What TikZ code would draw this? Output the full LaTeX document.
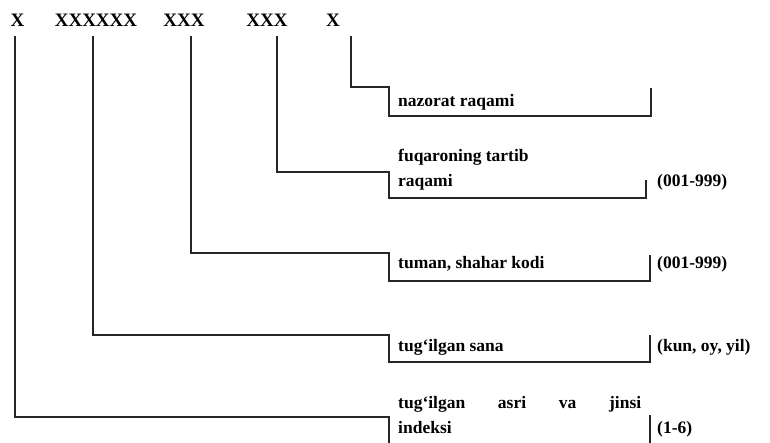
\documentclass[tikz,border=0pt]{standalone}
\usepackage{fontspec}
\setmainfont{Liberation Serif}
\begin{document}
\begin{tikzpicture}
		[x=1pt,y=-1pt,
		digit/.style={font=\fontsize{19}{22}\selectfont\bfseries,inner sep=0pt,anchor=base},
		boxtext/.style={font=\fontsize{17.5}{25}\selectfont\bfseries,inner sep=0pt,anchor=base west,align=left},
		rangetext/.style={font=\fontsize{17.5}{20}\selectfont\bfseries,inner sep=0pt,anchor=base west},
		edgestyle/.style={-,line width=1.4pt,black!85}]
		\useasboundingbox (0,0) rectangle (770,443);
		% code digits
		\node at (17.5,27) (d1) [digit] {X};
		\node at (96,27) (d2) [digit] {XXXXXX};
		\node at (184,27) (d3) [digit] {XXX};
		\node at (267,27) (d4) [digit] {XXX};
		\node at (333,27) (d5) [digit] {X};
		\coordinate (c1) at (15,36);
		\coordinate (c2) at (93,36);
		\coordinate (c3) at (191,36);
		\coordinate (c4) at (277,36);
		\coordinate (c5) at (351,36);
		% explanations (base = last line)
		\node at (398,107) (t5) [boxtext] {nazorat raqami};
		\node at (398,187) (t4) [boxtext] {fuqaroning tartib\\raqami};
		\node at (398,269) (t3) [boxtext] {tuman, shahar kodi};
		\node at (398,351) (t2) [boxtext] {tug‘ilgan sana};
		\node at (398,433) (t1) [boxtext] {\makebox[243pt][s]{tug‘ilgan asri va jinsi}\\indeksi};
		\node at (657,187) (r4) [rangetext] {(001-999)};
		\node at (657,269) (r3) [rangetext] {(001-999)};
		\node at (657,351) (r2) [rangetext] {(kun, oy, yil)};
		\node at (657,433) (r1) [rangetext] {(1-6)};
		% connectors
		\coordinate (k5) at (389,87);
		\coordinate (k4) at (389,172);
		\coordinate (k3) at (389,253);
		\coordinate (k2) at (389,335);
		\coordinate (k1) at (389,417);
		\coordinate (e1) at (650,415);
		\draw[edgestyle] (c5) |- (k5) -- ++(0,29) -- ++(262,0) -- ++(0,-28);
		\draw[edgestyle] (c4) |- (k4) -- ++(0,26) -- ++(257,0) -- ++(0,-18);
		\draw[edgestyle] (c3) |- (k3) -- ++(0,28) -- ++(261,0) -- ++(0,-26);
		\draw[edgestyle] (c2) |- (k2) -- ++(0,27) -- ++(261,0) -- ++(0,-27);
		\draw[edgestyle] (c1) |- (k1) -- ++(0,30);
		\draw[edgestyle] (e1) -- ++(0,32);
	\end{tikzpicture}
\end{document}
